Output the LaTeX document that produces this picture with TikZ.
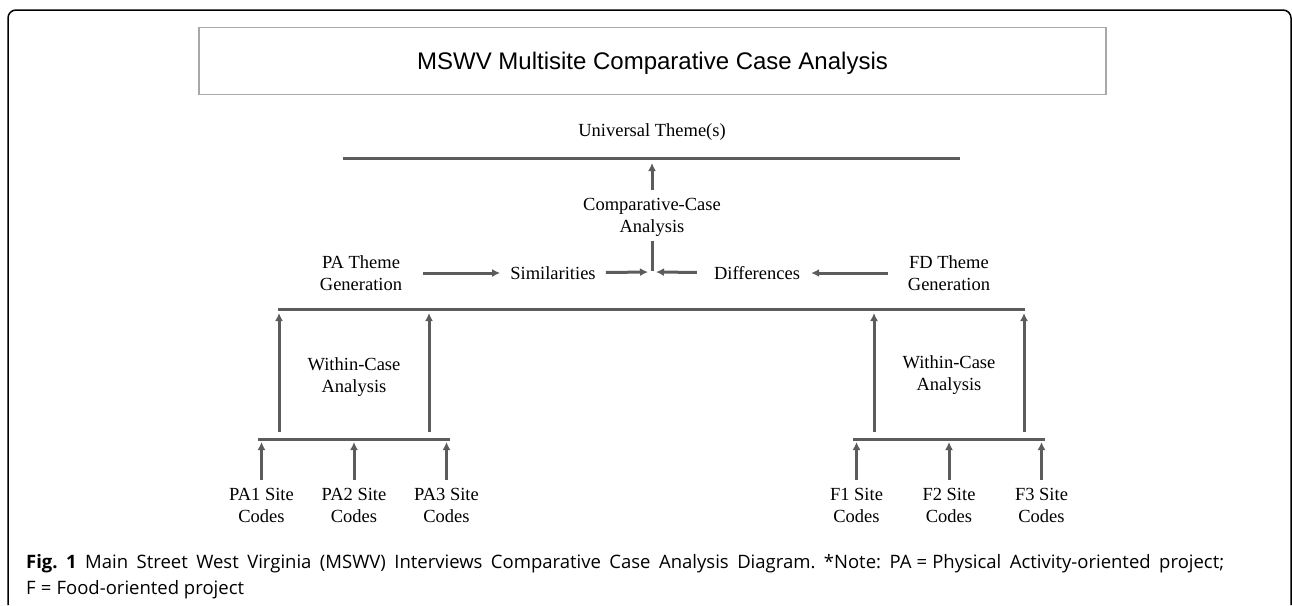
\documentclass[tikz,border=0pt]{standalone}
\usepackage{fontspec}
\setmainfont{Liberation Serif}
\newfontfamily\titlefont{Liberation Sans}
\newfontfamily\captionfont{Open Sans}
\usepackage{tikz}
\usetikzlibrary{positioning, arrows.meta}
\definecolor{linegray}{HTML}{5C5C5C}
\definecolor{boxgray}{HTML}{A8A8A8}
\frenchspacing
\tikzset{x=1pt, y=-1pt, >={Latex[length=8pt, width=8pt]}, bar/.style={line width=3pt, draw=linegray}, flow/.style={->, line width=3pt, draw=linegray}, titlebox/.style={draw=boxgray, line width=1.5pt, minimum width=907pt, minimum height=67pt, text depth=0pt, font=\titlefont\fontsize{24}{28}\selectfont}}

\begin{document}
\begin{tikzpicture}[every node/.style={align=center, inner sep=4pt, font=\fontsize{18.5}{22}\selectfont}, node distance=92.5pt]
	\useasboundingbox (0,0) rectangle (1292,605);
	\draw[line width=1.5pt, rounded corners=8pt] (8,605) -- (8,10) -- (1291,10) -- (1291,605);
	\node[titlebox] (Title) at (652.5,61) {MSWV Multisite Comparative Case Analysis};

	% themes
	\node (Universal) at (652,132) {Universal Theme(s)};
	\node (Comparative) at (652,217.5) {Comparative-Case\\ Analysis};
	\node (PA Theme) at (361,273) {PA Theme\\ Generation};
	\node (Similarities) at (553,273) {Similarities};
	\node (Differences) at (757,273) {Differences};
	\node (FD Theme) at (949,273) {FD Theme\\ Generation};
	\node (Within PA) at (354,377) {Within-Case\\ Analysis};
	\node (Within F) at (949,375) {Within-Case\\ Analysis};

	% site codes
	\node (PA2) at (354,505.5) {PA2 Site\\ Codes};
	\node[left of=PA2] (PA1) {PA1 Site\\ Codes};
	\node[right of=PA2] (PA3) {PA3 Site\\ Codes};
	\node (F2) at (949,505.5) {F2 Site\\ Codes};
	\node[left of=F2] (F1) {F1 Site\\ Codes};
	\node[right of=F2] (F3) {F3 Site\\ Codes};

	% bars
	\coordinate (Top Left) at (343,158);
	\coordinate (Top Right) at (960,158);
	\coordinate (Mid Left) at (278,309);
	\coordinate (Mid Right) at (1025,309);
	\coordinate (Low PA Left) at (258,439);
	\coordinate (Low PA Right) at (450,439);
	\coordinate (Low F Left) at (853,439);
	\coordinate (Low F Right) at (1045,439);
	\coordinate (Junction) at (652,272);
	\draw[bar] (Top Left) -- (Top Right);
	\draw[bar] (Mid Left) -- (Mid Right);
	\draw[bar] (Low PA Left) -- (Low PA Right);
	\draw[bar] (Low F Left) -- (Low F Right);
	\draw[bar] (Comparative.south) -- ([yshift=1pt]Junction);

	\draw[flow, shorten <=4pt, shorten >=5pt] (Comparative.north) -- (Comparative.north |- Top Left);
	\draw[flow, shorten <=17pt, shorten >=6pt] (PA Theme) -- (Similarities);
	\draw[flow, shorten <=6pt, shorten >=4pt] (Similarities) -- (Junction);
	\draw[flow, shorten <=16pt, shorten >=7pt] (FD Theme) -- (Differences);
	\draw[flow, shorten <=13pt, shorten >=4pt] (Differences) -- (Junction);
	\foreach \site in {PA1, PA2, PA3}
		\draw[flow, shorten <=4pt, shorten >=3pt] (\site.north) -- (\site.north |- Low PA Left);
	\foreach \site in {F1, F2, F3}
		\draw[flow, shorten <=4pt, shorten >=3pt] (\site.north) -- (\site.north |- Low F Left);
	\draw[flow, shorten <=7pt, shorten >=4pt] ([xshift=21pt]Low PA Left) -- ([xshift=21pt]Low PA Left |- Mid Left);
	\draw[flow, shorten <=7pt, shorten >=4pt] ([xshift=-21pt]Low PA Right) -- ([xshift=-21pt]Low PA Right |- Mid Left);
	\draw[flow, shorten <=7pt, shorten >=4pt] ([xshift=21pt]Low F Left) -- ([xshift=21pt]Low F Left |- Mid Left);
	\draw[flow, shorten <=7pt, shorten >=4pt] ([xshift=-21pt]Low F Right) -- ([xshift=-21pt]Low F Right |- Mid Left);

	% caption
	\node[anchor=north west, text width=1198pt, align=justify, inner sep=0pt, font=\captionfont\fontsize{18.5}{26}\selectfont] (Caption) at (26,554) {\textbf{Fig.~1} Main Street West Virginia (MSWV) Interviews Comparative Case Analysis Diagram. *Note: PA\;=\;Physical Activity-oriented project;\linebreak F\;=\;Food-oriented project};
\end{tikzpicture}
\end{document}
